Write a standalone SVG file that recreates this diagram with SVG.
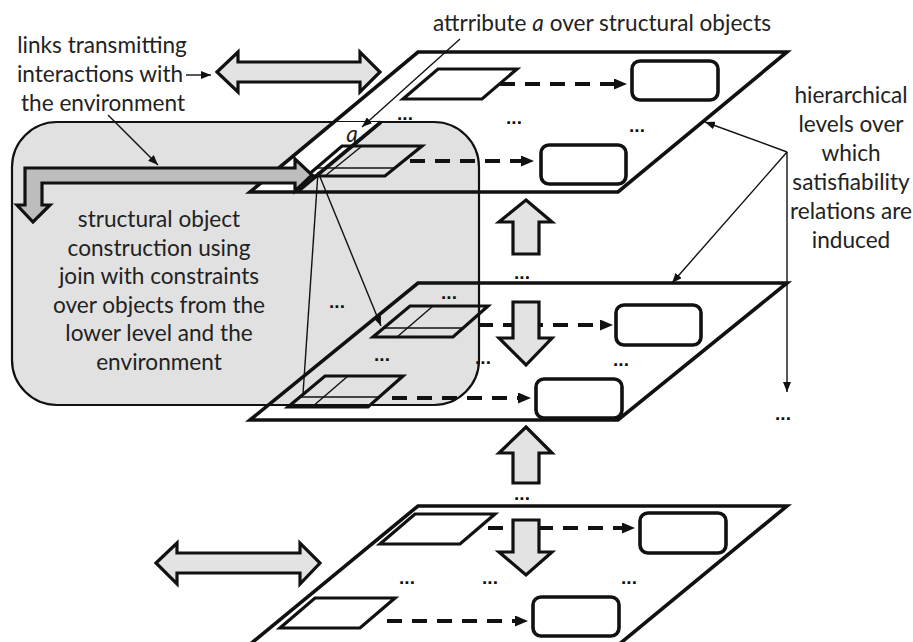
<svg xmlns="http://www.w3.org/2000/svg" width="913" height="642" viewBox="0 0 913 642">
<defs>
<marker id="dh" viewBox="0 0 13 11" refX="0" refY="5.5" markerWidth="13" markerHeight="11" markerUnits="userSpaceOnUse" orient="auto"><path d="M0,0L13,5.5L0,11z" fill="#111"/></marker>
<marker id="th" viewBox="0 0 10 8" refX="10" refY="4" markerWidth="10" markerHeight="8" markerUnits="userSpaceOnUse" orient="auto"><path d="M0,0L10,4L0,8z" fill="#111"/></marker>
</defs>
<style>
.layer{fill:#fff;stroke:none}
.edge{fill:none;stroke:#111;stroke-width:3.6;stroke-linejoin:miter}
.par{fill:#fff;stroke:#111;stroke-width:3.2;stroke-linejoin:miter}
.grid{fill:none;stroke:#111;stroke-width:3.2;stroke-linejoin:miter}
.gl{fill:none;stroke:#111;stroke-width:1.4}
.rr{fill:#fff;stroke:#111;stroke-width:3.6}
.dash{fill:none;stroke:#111;stroke-width:4;stroke-dasharray:15 10}
.blk{fill:#e3e3e3;stroke:#111;stroke-width:3.2;stroke-linejoin:miter}
.thin{fill:none;stroke:#111;stroke-width:1.4}
.t{font-family:Lato,"Liberation Sans",sans-serif;font-size:22.6px;fill:#222;text-anchor:middle}
.dots{font-family:"Liberation Sans",sans-serif;font-size:19px;font-weight:bold;fill:#111;text-anchor:middle}
</style>
<g id="layer-fills">
<polygon class="layer" points="418,52 787,52 618,192 250,192"/>
<polygon class="layer" points="418,283 787,283 618,420 250,420"/>
<polygon class="layer" points="418,506 787,506 617,646 248,646"/>
</g>
<g id="construction-box">
<rect x="12" y="122" width="467" height="283" rx="45" ry="45" fill="#e1e1e1" stroke="#111" stroke-width="2.2"/>
<polygon points="250,192 297,192 381,122 334,122" fill="#fff"/>
</g>
<g id="level-top">
<polygon class="edge" points="418,52 787,52 618,192 250,192"/>
<line class="edge" x1="297" y1="192" x2="381" y2="122"/>
<polygon class="par" points="438,69 517,69 482,99 403,99"/>
<rect class="rr" x="632" y="61" width="86" height="39" rx="8"/>
<rect class="rr" x="541" y="145" width="85" height="39" rx="8"/>
<polygon class="grid" points="342,146 422,146 385,176 307,176"/>
<line class="gl" x1="316" y1="168" x2="394" y2="168"/>
<line class="gl" x1="362" y1="146" x2="325" y2="176"/>
<text class="t" x="352" y="142" font-style="italic">a</text>
<text class="dots" x="405" y="120">...</text>
<text class="dots" x="514" y="124">...</text>
<text class="dots" x="637" y="132">...</text>
</g>
<g id="level-middle">
<polygon class="edge" points="418,283 787,283 618,420 250,420"/>
<rect class="rr" x="616" y="305" width="85" height="40" rx="8"/>
<rect class="rr" x="536" y="379" width="86" height="39" rx="8"/>
<polygon class="grid" points="410,306 488,306 453,337 373,337"/>
<line class="gl" x1="383" y1="328" x2="463" y2="328"/>
<line class="gl" x1="433" y1="306" x2="397" y2="337"/>
<polygon class="grid" points="325,376 403,376 368,407 288,407"/>
<line class="gl" x1="300" y1="397" x2="379" y2="397"/>
<line class="gl" x1="348" y1="376" x2="312" y2="407"/>
<text class="dots" x="449" y="299">...</text>
<text class="dots" x="337" y="308">...</text>
<text class="dots" x="382" y="361">...</text>
<text class="dots" x="483" y="364">...</text>
<text class="dots" x="621" y="366">...</text>
</g>
<g id="level-bottom">
<polygon class="edge" points="418,506 787,506 617,646 248,646"/>
<polygon class="par" points="415,514 495,514 460,544 380,544"/>
<polygon class="par" points="315,598 395,598 360,628 280,628"/>
<rect class="rr" x="640" y="513" width="86" height="40" rx="8"/>
<rect class="rr" x="533" y="597" width="86" height="39" rx="8"/>
<text class="dots" x="407" y="584">...</text>
<text class="dots" x="490" y="584">...</text>
<text class="dots" x="629" y="584">...</text>
</g>
<g id="connectors">
<line class="dash" x1="500" y1="84" x2="614" y2="84" marker-end="url(#dh)"/>
<line class="dash" x1="410" y1="161" x2="521" y2="161" marker-end="url(#dh)"/>
<line class="dash" x1="478" y1="325" x2="600" y2="325" marker-end="url(#dh)"/>
<line class="dash" x1="392" y1="398" x2="518" y2="398" marker-end="url(#dh)"/>
<line class="dash" x1="488" y1="528" x2="622" y2="528" marker-end="url(#dh)"/>
<line class="dash" x1="387" y1="621" x2="515" y2="621" marker-end="url(#dh)"/>
<polygon class="blk" points="526,200 552,222 539,222 539,254 513,254 513,222 499,222"/>
<polygon class="blk" points="513,302 539,302 539,338 552,338 526,365 499,338 513,338"/>
<polygon class="blk" points="526,427 552,453 539,453 539,483 513,483 513,453 499,453"/>
<polygon class="blk" points="513,520 539,520 539,552 552,552 526,575 499,552 513,552"/>
<polygon class="blk" points="217,72 238,52 238,62 360,62 360,52 380,72 360,92 360,82 238,82 238,92"/>
<polygon class="blk" points="156,563 177,543 177,553 300,553 300,543 320,563 300,584 300,573 177,573 177,584"/>
<polygon class="blk" style="fill:#bdbdbd" points="25,168 295,168 295,159 312,175 295,191 295,183 42,183 42,205 50,205 33,222 17,205 25,205"/>
<line class="thin" x1="318" y1="172" x2="303" y2="394"/>
<line class="thin" x1="318" y1="172" x2="381" y2="326" marker-end="url(#th)"/>
<line class="thin" x1="460" y1="39" x2="362" y2="127" marker-end="url(#th)"/>
<line class="thin" x1="787" y1="152" x2="705" y2="122" marker-end="url(#th)"/>
<line class="thin" x1="787" y1="152" x2="672" y2="283" marker-end="url(#th)"/>
<line class="thin" x1="787" y1="152" x2="787" y2="392" marker-end="url(#th)"/>
<line class="thin" x1="108" y1="115" x2="158" y2="165" marker-end="url(#th)"/>
<line class="thin" x1="186" y1="75" x2="211" y2="75" marker-end="url(#th)"/>
<text class="dots" x="522" y="279">...</text>
<text class="dots" x="522" y="500">...</text>
<text class="dots" x="783" y="420">...</text>
</g>
<g id="labels">
<text class="t" x="602" y="31">attrribute <tspan font-style="italic">a</tspan> over structural objects</text>
<text class="t" x="102" y="53">links transmitting</text>
<text class="t" x="100" y="82">interactions with</text>
<text class="t" x="103" y="111">the environment</text>
<text class="t" x="851" y="103">hierarchical</text>
<text class="t" x="851" y="132">levels over</text>
<text class="t" x="851" y="161">which</text>
<text class="t" x="851" y="190">satisfiability</text>
<text class="t" x="851" y="219">relations are</text>
<text class="t" x="851" y="248">induced</text>
<text class="t" x="159" y="227">structural object</text>
<text class="t" x="159" y="256">construction using</text>
<text class="t" x="159" y="284">join with constraints</text>
<text class="t" x="159" y="313">over objects from the</text>
<text class="t" x="159" y="341">lower level and the</text>
<text class="t" x="159" y="370">environment</text>
</g>
</svg>
